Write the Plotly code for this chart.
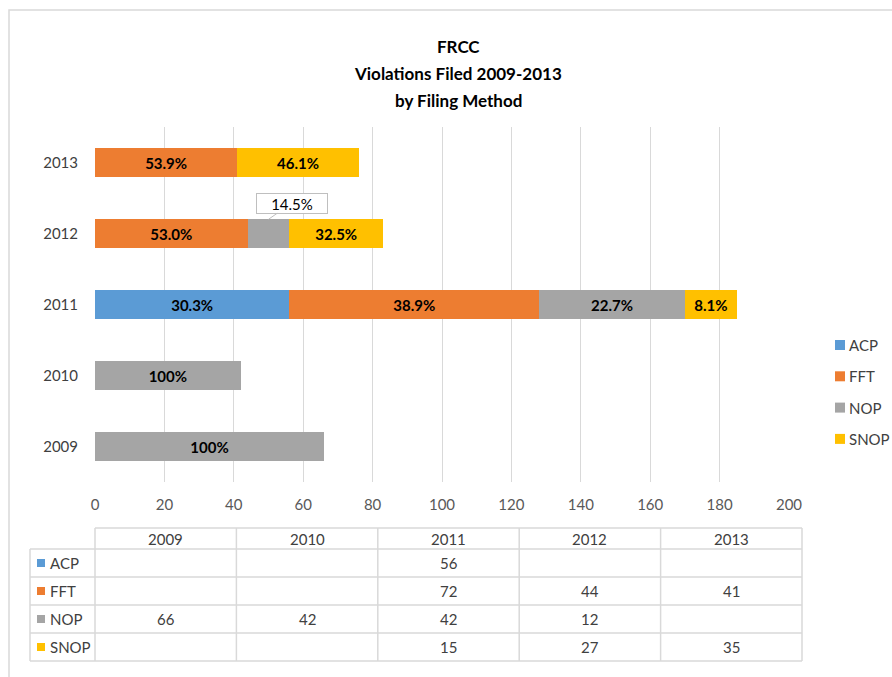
import plotly.graph_objects as go

# ---------------- data ----------------
years = ["2009", "2010", "2011", "2012", "2013"]
series_names = ["ACP", "FFT", "NOP", "SNOP"]
acp = [None, None, 56, None, None]
fft = [None, None, 72, 44, 41]
nop = [66, 42, 42, 12, None]
snop = [None, None, 15, 27, 35]
series_values = [acp, fft, nop, snop]
colors = ["#5B9BD5", "#ED7D31", "#A5A5A5", "#FFC000"]
x_ticks = [0, 20, 40, 60, 80, 100, 120, 140, 160, 180, 200]
title_lines = ["FRCC", "Violations Filed 2009-2013", "by Filing Method"]
callout = ("NOP", "2012")  # label drawn as a callout box

FONT = "Lato"

# ---------------- layout geometry (pixels) ----------------
W, H = 892, 677
L, R, T, B = 95, 789, 127, 482


def px(x):
    return (x - L) / (R - L)


def py(y):
    return (B - y) / (B - T)


totals = []
for i in range(len(years)):
    totals.append(sum(s[i] for s in series_values if s[i] is not None))


def pct(v, t):
    if v is None:
        return ""
    if v == t:
        return "100%"
    return f"{v / t * 100:.1f}%"


fig = go.Figure()
for name, vals, col in zip(series_names, series_values, colors):
    texts = []
    for i, v in enumerate(vals):
        if (name, years[i]) == callout:
            texts.append("")
        else:
            texts.append(pct(v, totals[i]))
    fig.add_trace(go.Bar(
        y=years, x=vals, name=name, orientation="h",
        marker=dict(color=col, line=dict(width=0)),
        text=texts, textposition="inside", insidetextanchor="middle",
        textfont=dict(family=FONT, size=15, color="#000000", weight="bold"),
        constraintext="none",
        showlegend=False,
        cliponaxis=False,
    ))

shapes = []
annotations = []

# callout label
ci = years.index(callout[1])
cs = series_names.index(callout[0])
cvals = series_values[cs]
base = sum(s[ci] for s in series_values[:cs] if s[ci] is not None)
annotations.append(dict(
    x=base + cvals[ci] / 2, y=ci + 0.2, xref="x", yref="y",
    text=pct(cvals[ci], totals[ci]),
    showarrow=True, arrowhead=0, arrowwidth=1, arrowcolor="#BFBFBF",
    ax=23, ay=-16, standoff=0,
    bgcolor="#FFFFFF", bordercolor="#BFBFBF", borderwidth=1, borderpad=2,
    width=66, height=15,
    font=dict(family=FONT, size=15, color="#000000"),
))

# outer chart border (top & left visible)
shapes.append(dict(type="rect", xref="paper", yref="paper",
                   x0=px(9), x1=px(W + 20), y0=py(10), y1=py(H + 20),
                   line=dict(color="#D9D9D9", width=1.5), layer="below"))

# title
for k, line in enumerate(title_lines):
    annotations.append(dict(
        x=px(458), y=py(46 + 27 * k), xref="paper", yref="paper",
        text=f"<b>{line}</b>", showarrow=False,
        xanchor="center", yanchor="middle",
        font=dict(family=FONT, size=17, color="#000000")))

# legend (right side)
for k, (name, col) in enumerate(zip(series_names, colors)):
    yc = 345 + 31.3 * k
    shapes.append(dict(type="rect", xref="paper", yref="paper",
                       x0=px(835), x1=px(845), y0=py(yc - 5), y1=py(yc + 5),
                       fillcolor=col, line=dict(width=0)))
    annotations.append(dict(
        x=px(847), y=py(yc), xref="paper", yref="paper", text=name,
        showarrow=False, xanchor="left", yanchor="middle",
        font=dict(family=FONT, size=15, color="#404040")))

# ---------------- data table ----------------
tx0, tx1 = 95, 802
lx0 = 30
col_w = (tx1 - tx0) / len(years)
row_edges = [528, 549, 577, 605, 633, 661]
grid_col = "#D9D9D9"
tcol = "#404040"


def hline(y, x0, x1):
    shapes.append(dict(type="line", xref="paper", yref="paper",
                       x0=px(x0), x1=px(x1), y0=py(y), y1=py(y),
                       line=dict(color=grid_col, width=1.5)))


def vline(x, y0, y1):
    shapes.append(dict(type="line", xref="paper", yref="paper",
                       x0=px(x), x1=px(x), y0=py(y0), y1=py(y1),
                       line=dict(color=grid_col, width=1.5)))


hline(row_edges[0], tx0, tx1)
for y in row_edges[1:]:
    hline(y, lx0, tx1)
vline(lx0, row_edges[1], row_edges[-1])
for j in range(len(years) + 1):
    vline(tx0 + j * col_w, row_edges[0], row_edges[-1])

# header
for j, yr in enumerate(years):
    annotations.append(dict(
        x=px(tx0 + (j + 0.5) * col_w), y=py((row_edges[0] + row_edges[1]) / 2),
        xref="paper", yref="paper", text=yr, showarrow=False,
        xanchor="center", yanchor="middle",
        font=dict(family=FONT, size=15, color=tcol)))

# rows
for r, (name, vals, col) in enumerate(zip(series_names, series_values, colors)):
    yc = (row_edges[r + 1] + row_edges[r + 2]) / 2
    shapes.append(dict(type="rect", xref="paper", yref="paper",
                       x0=px(37), x1=px(45), y0=py(yc - 4), y1=py(yc + 4),
                       fillcolor=col, line=dict(width=0)))
    annotations.append(dict(
        x=px(48), y=py(yc), xref="paper", yref="paper", text=name,
        showarrow=False, xanchor="left", yanchor="middle",
        font=dict(family=FONT, size=15, color=tcol)))
    for j, v in enumerate(vals):
        if v is None:
            continue
        annotations.append(dict(
            x=px(tx0 + (j + 0.5) * col_w), y=py(yc), xref="paper", yref="paper",
            text=str(v), showarrow=False, xanchor="center", yanchor="middle",
            font=dict(family=FONT, size=15, color=tcol)))

fig.update_layout(
    width=W, height=H,
    margin=dict(l=L, r=W - R, t=T, b=H - B, pad=0, autoexpand=False),
    barmode="stack", bargap=0.6,
    paper_bgcolor="#FFFFFF", plot_bgcolor="#FFFFFF",
    font=dict(family=FONT, color="#595959"),
    showlegend=False,
    xaxis=dict(range=[0, 200], tickvals=x_ticks, showgrid=True,
               gridcolor="#D9D9D9", gridwidth=1, zeroline=False,
               showline=False, ticks="", ticklabelstandoff=12,
               tickfont=dict(family=FONT, size=15, color="#595959"),
               automargin=False, fixedrange=True),
    yaxis=dict(type="category", categoryorder="array", categoryarray=years,
               showgrid=False, zeroline=False, showline=False, ticks="",
               ticklabelstandoff=16,
               tickfont=dict(family=FONT, size=15, color="#404040"),
               automargin=False, fixedrange=True),
    uniformtext=dict(mode="show", minsize=14),
)
fig.layout.shapes = shapes
fig.layout.annotations = annotations

fig.write_html("out.html", config={"displayModeBar": False},
               post_script="document.body.style.margin='0';")
